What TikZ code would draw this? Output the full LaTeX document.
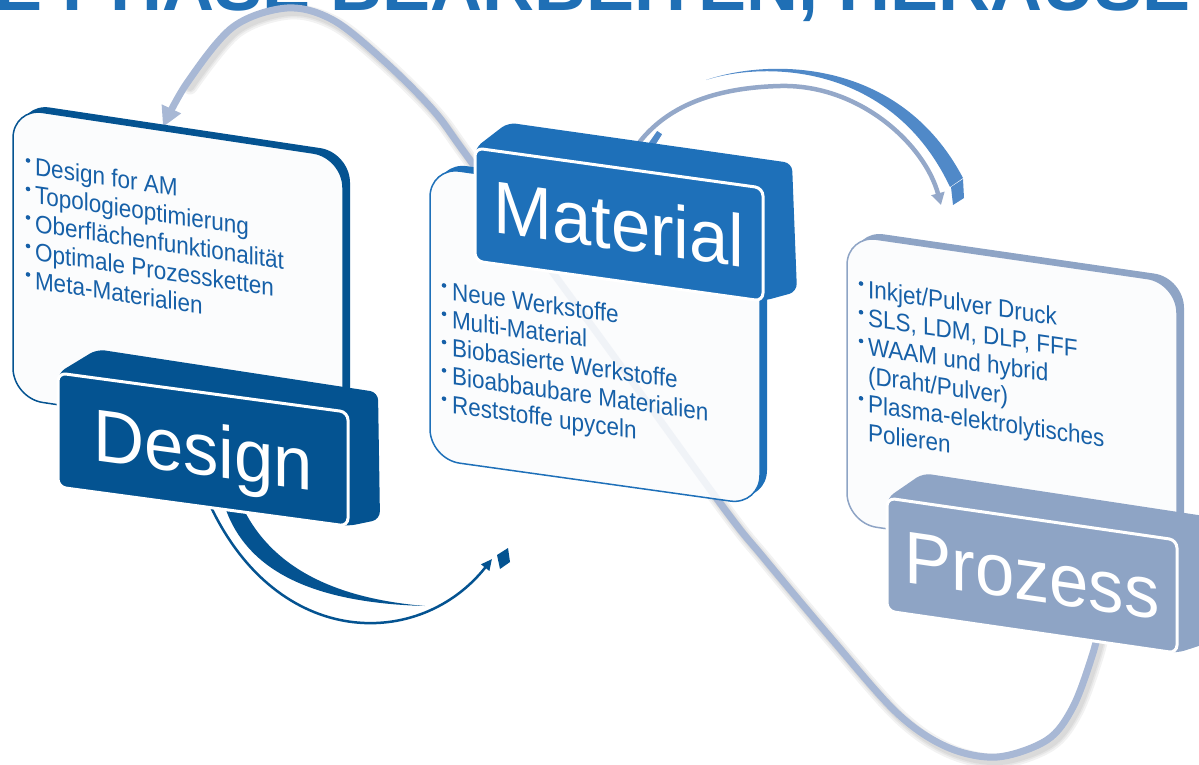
\documentclass[tikz,border=0pt]{standalone}
\usepackage{fontspec}
\setmainfont{Liberation Sans}
\usetikzlibrary{arrows.meta}

\definecolor{designblue}{RGB}{4,83,145}
\definecolor{materialblue}{RGB}{30,112,185}
\definecolor{prozessblue}{RGB}{142,164,197}
\definecolor{loopblue}{RGB}{168,184,213}
\definecolor{arcblue}{RGB}{80,137,200}
\definecolor{arcgrey}{RGB}{148,168,201}
\definecolor{itemblue}{RGB}{22,96,168}
\definecolor{cardwhite}{RGB}{251,252,253}
\definecolor{headblue}{RGB}{31,111,181}

\tikzset{
  itemtext/.style={anchor=base west, inner sep=0pt, outer sep=0pt, text=itemblue,
    transform shape, xscale=0.9, font=\fontsize{25}{28}\selectfont},
  labeltext/.style={anchor=base, inner sep=0pt, outer sep=0pt, text=white,
    transform shape, xscale=0.955, font=\fontsize{74}{74}\selectfont},
  cardface/.style={line width=1.5pt, fill=cardwhite, rounded corners=30pt},
  cardback/.style={rounded corners=30pt},
  labelbody/.style={rounded corners=8pt},
  labelface/.style={draw=white, line width=3pt, rounded corners=8pt},
  loopline/.style={draw=loopblue, line width=7pt},
  loopshadow/.style={draw=black, line width=#1, opacity=0.05, line cap=round},
}

\begin{document}
\begin{tikzpicture}[x=1pt, y=-1pt]
\useasboundingbox (0,0) rectangle (1199,764);

% heading, cut off by the upper page edge
\node[anchor=base west, inner sep=0pt, text=headblue,
      font=\fontsize{72}{72}\selectfont\bfseries] (heading) at (-6,10)
      {E PHASE BEARBEITEN, HERAUSE};

% ---------- long loop: Prozess -> Material -> Design ----------
\coordinate (lp1) at (1103,612);
\coordinate (lp2) at (1093,653);
\coordinate (lp3) at (1073,707);
\coordinate (lp4) at (1047,740);
\coordinate (lp5) at (997,757);
\coordinate (lp6) at (947,747);
\coordinate (lp7) at (897,713);
\coordinate (lp8) at (830,637);
\coordinate (lp9) at (763,557);
\coordinate (lp10) at (723,507);
\coordinate (lp11) at (597,333);
\coordinate (lp12) at (470,160);
\coordinate (lp13) at (433,110);
\coordinate (lp14) at (383,60);
\coordinate (lp15) at (333,20);
\coordinate (lp16) at (287,8);
\coordinate (lp17) at (233,27);
\coordinate (lp18) at (187,83);
\coordinate (lp19) at (163,127);

\begin{scope}[transform canvas={shift={(3,4)}}]
  \foreach \w in {15,11,8}
    \draw[loopshadow=\w pt] plot[smooth, tension=0.55] coordinates
      {(lp1) (lp2) (lp3) (lp4) (lp5) (lp6) (lp7) (lp8) (lp9) (lp10) (lp11)
       (lp12) (lp13) (lp14) (lp15) (lp16) (lp17) (lp18)};
\end{scope}
\draw[loopline, -{Triangle[length=20pt, width=20pt]}] plot[smooth, tension=0.55] coordinates
  {(lp1) (lp2) (lp3) (lp4) (lp5) (lp6) (lp7) (lp8) (lp9) (lp10) (lp11)
   (lp12) (lp13) (lp14) (lp15) (lp16) (lp17) (lp18) (lp19)};

% ---------- Design card ----------
\begin{scope}[cm={1,-0.15,0,1,(13,108)}]
  \fill[designblue, cardback] (7,-6) rectangle (337,284);
  \draw[designblue, cardface] (0,0) rectangle (330,290);
  \foreach \v in {63.7,92.2,120.7,149.2,177.7}
    \fill[itemblue] (15,\v-13.5) circle (2.3pt);
  \node[itemtext] (d1) at (22,63.7) {Design for AM};
  \node[itemtext] (d2) at (22,92.2) {Topologieoptimierung};
  \node[itemtext] (d3) at (22,120.7) {Oberflächenfunktionalität};
  \node[itemtext] (d4) at (22,149.2) {Optimale Prozessketten};
  \node[itemtext] (d5) at (22,177.7) {Meta-Materialien};
\end{scope}

% ---------- Design -> Material arrow, seen edge-on ----------
\coordinate (da0) at (210,505);
\coordinate (da1) at (492,559);
\fill[designblue] (226,510) .. controls (250,575) and (320,603) .. (425,606)
  .. controls (330,598) and (272,565) .. (244,510) -- cycle;
\draw[designblue, line width=2.5pt, -{Triangle[length=11pt, width=10pt]}]
  (da0) .. controls +(68,145) and +(-72,91) .. (da1);
\fill[designblue] (497,555) -- (508,548) -- (510,562) -- (500,569) -- cycle;

% ---------- Design label ----------
\begin{scope}[cm={1,-0.135,0,1,(58,373)}]
  \fill[designblue, labelbody] (0,0) -- (39,-29) -- (320,-24) -- (322,103)
    -- (290,114) -- (0,114) -- cycle;
  \filldraw[fill=designblue, labelface] (0,0) rectangle (290,114);
  \node[labeltext] (designlabel) at (145,83) {Design};
\end{scope}

% ---------- Material card (the loop shows faintly through it) ----------
\begin{scope}[cm={1,-0.14,0,1,(430,167)}]
  \fill[materialblue, cardback] (7,-6) rectangle (337,286);
  \draw[materialblue, cardface] (0,0) rectangle (330,292);
  \begin{scope}
    \clip[rounded corners=30pt] (1,1) rectangle (329,291);
    \draw[loopblue, line width=7pt, opacity=0.13] plot[smooth, tension=0.55]
      coordinates {(lp9) (lp10) (lp11) (lp12) (lp13)};
  \end{scope}
  \foreach \v in {130,158.3,186.6,214.9,243.2}
    \fill[itemblue] (14,\v-13.5) circle (2.3pt);
  \node[itemtext] (m1) at (22,130) {Neue Werkstoffe};
  \node[itemtext] (m2) at (22,158.3) {Multi-Material};
  \node[itemtext] (m3) at (22,186.6) {Biobasierte Werkstoffe};
  \node[itemtext] (m4) at (22,214.9) {Bioabbaubare Materialien};
  \node[itemtext] (m5) at (22,243.2) {Reststoffe upyceln};
\end{scope}

% ---------- Material -> Prozess arrow ----------
\coordinate (ma0) at (625,165);
\coordinate (ma1) at (780,86);
\coordinate (ma2) at (941,205);
\fill[arcblue] (706,80) .. controls (770,58) and (900,58) .. (963,178)
  -- (950,187) .. controls (893,66) and (770,60) .. cycle;
\draw[arcgrey, line width=4.5pt, -{Triangle[length=12pt, width=13pt]}]
  (ma0) .. controls +(25,-50) and +(-80,2) .. (ma1)
        .. controls +(80,-2) and +(-16,-60) .. (ma2);
\fill[arcblue] (951,187) -- (963,179) -- (964,198) -- (953,205) -- cycle;
\filldraw[fill=arcblue, draw=white, line width=1pt]
  (641,153) -- (657,130) -- (663,134) -- (651,153) -- cycle;

% ---------- Material label ----------
\begin{scope}[cm={1,-0.139,0,1,(475,148)}]
  \fill[materialblue, labelbody] (0,0) -- (33,-30) -- (317,-29) -- (322,99)
    -- (288,113) -- (0,113) -- cycle;
  \filldraw[fill=materialblue, labelface] (0,0) rectangle (288,113);
  \node[labeltext] (materiallabel) at (144,82) {Material};
\end{scope}

% ---------- Prozess card ----------
\begin{scope}[cm={1,-0.145,0,1,(847,235)}]
  \fill[prozessblue, cardback] (7,-6) rectangle (337,282);
  \draw[prozessblue, cardface] (0,0) rectangle (330,288);
  \foreach \v in {60,88.7,117.4,174.8}
    \fill[itemblue] (14,\v-13.5) circle (2.3pt);
  \node[itemtext] (p1) at (21,60) {Inkjet/Pulver Druck};
  \node[itemtext] (p2) at (21,88.7) {SLS, LDM, DLP, FFF};
  \node[itemtext] (p3) at (21,117.4) {WAAM und hybrid};
  \node[itemtext] (p4) at (21,146.1) {(Draht/Pulver)};
  \node[itemtext] (p5) at (21,174.8) {Plasma-elektrolytisches};
  \node[itemtext] (p6) at (21,203.5) {Polieren};
\end{scope}

% ---------- Prozess label ----------
\begin{scope}[cm={1,-0.145,0,1,(887,498)}]
  \fill[prozessblue, labelbody] (0,0) -- (36,-30) -- (322,-28) -- (324,97)
    -- (290,113) -- (0,113) -- cycle;
  \filldraw[fill=prozessblue, labelface] (0,0) rectangle (290,113);
  \node[labeltext] (prozesslabel) at (145,82) {Prozess};
\end{scope}

\end{tikzpicture}
\end{document}
